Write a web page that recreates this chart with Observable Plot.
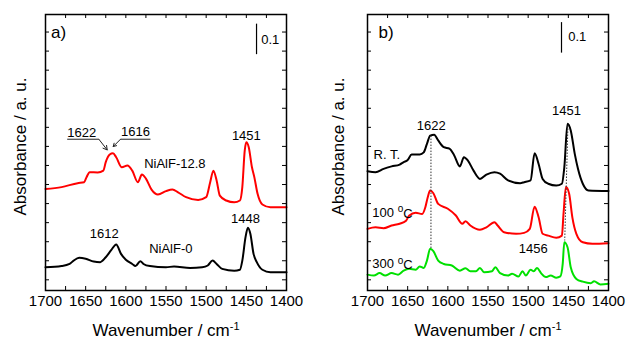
<!DOCTYPE html>
<html><head><meta charset="utf-8">
<script src="https://cdn.jsdelivr.net/npm/d3@7"></script>
<script src="https://cdn.jsdelivr.net/npm/@observablehq/plot@0.6"></script>
<style>
body{margin:0;background:#fff;}
#chart{display:flex;width:626px;height:345px;}
</style></head><body><div id="chart"></div>
<script>
// ---- tick labels / tick values ----
const xTickLabels = [1700,1650,1600,1550,1500,1450,1400];
const xMinorTicks = [1675,1650,1625,1600,1575,1550,1525,1500,1475,1450,1425];
const yTicks = [0,0.0625,0.125,0.1875,0.25,0.3125,0.375,0.4375,0.5,0.5625,0.625,0.6875,0.75,0.8125];

// ---- panel a) series ----
const redA_wn  = [1700,1680,1660,1652,1649,1645,1635,1628,1625,1620,1616,1612,1605,1598,1592,1585,1580,1575,1568,1560,1550,1542,1535,1525,1510,1500,1495,1491,1487,1483,1475,1465,1458,1455,1452,1450,1447,1443,1440,1436,1430,1420,1400];
const redA_abs = [0.298,0.304,0.317,0.320,0.336,0.353,0.352,0.358,0.386,0.411,0.415,0.402,0.369,0.375,0.358,0.320,0.345,0.332,0.296,0.280,0.291,0.296,0.287,0.271,0.262,0.271,0.320,0.358,0.326,0.276,0.260,0.254,0.260,0.304,0.424,0.451,0.435,0.369,0.336,0.282,0.247,0.238,0.238];
const blackA_wn  = [1700,1680,1670,1665,1658,1650,1640,1632,1625,1618,1612,1606,1600,1592,1588,1582,1578,1570,1550,1540,1520,1505,1498,1492,1487,1480,1465,1458,1455,1451,1448,1445,1441,1437,1430,1420,1400];
const blackA_abs = [0.041,0.045,0.052,0.063,0.072,0.069,0.060,0.058,0.074,0.098,0.116,0.085,0.066,0.052,0.045,0.061,0.052,0.045,0.041,0.044,0.039,0.041,0.047,0.063,0.052,0.036,0.030,0.033,0.063,0.140,0.171,0.151,0.085,0.058,0.033,0.025,0.025];

// ---- panel b) series ----
const rtB_wn  = [1700,1690,1680,1670,1660,1655,1650,1645,1635,1630,1626,1622,1617,1612,1605,1598,1592,1585,1580,1575,1568,1560,1552,1542,1535,1525,1510,1505,1497,1492,1487,1482,1475,1465,1458,1455,1451,1447,1442,1438,1432,1425,1400];
const rtB_abs = [0.356,0.353,0.364,0.372,0.378,0.386,0.393,0.411,0.411,0.418,0.446,0.473,0.476,0.457,0.435,0.430,0.408,0.372,0.402,0.391,0.358,0.331,0.345,0.353,0.348,0.326,0.317,0.320,0.326,0.415,0.380,0.331,0.315,0.309,0.315,0.369,0.512,0.490,0.413,0.364,0.315,0.293,0.291];
const t100B_wn  = [1700,1690,1680,1670,1660,1652,1648,1640,1632,1628,1625,1622,1618,1612,1600,1590,1582,1578,1572,1560,1552,1542,1538,1530,1515,1505,1498,1492,1487,1482,1475,1465,1458,1456,1453,1449,1445,1440,1432,1420,1400];
const t100B_abs = [0.167,0.172,0.169,0.178,0.184,0.194,0.211,0.220,0.216,0.238,0.271,0.293,0.284,0.249,0.233,0.211,0.184,0.192,0.178,0.164,0.172,0.189,0.178,0.156,0.151,0.154,0.167,0.240,0.205,0.151,0.145,0.138,0.145,0.216,0.304,0.282,0.205,0.151,0.123,0.118,0.120];
const t300B_wn  = [1700,1692,1685,1678,1670,1662,1655,1648,1640,1635,1630,1626,1622,1618,1612,1605,1595,1585,1578,1572,1565,1560,1555,1545,1541,1535,1525,1520,1512,1507,1503,1497,1493,1489,1484,1478,1472,1465,1460,1457,1455,1451,1447,1440,1432,1422,1418,1410,1400];
const t300B_abs = [0.017,0.014,0.022,0.014,0.022,0.017,0.030,0.036,0.033,0.044,0.039,0.063,0.102,0.094,0.063,0.052,0.047,0.030,0.038,0.028,0.028,0.039,0.025,0.028,0.041,0.022,0.014,0.020,0.011,0.028,0.014,0.033,0.028,0.039,0.022,0.009,0.014,0.007,0.011,0.052,0.123,0.107,0.041,0.003,-0.006,-0.011,-0.005,-0.015,-0.013];

// ---- annotations (text, wavenumber, absorbance) ----
const annA_text = ["1622","1616","NiAlF-12.8","1451","1612","NiAlF-0","1448"];
const annA_wn   = [1655,1588,1539,1450,1627,1544,1451];
const annA_abs  = [0.481,0.485,0.380,0.473,0.152,0.103,0.201];
const underA_x1 = [1673,1606.6], underA_x2 = [1633.6,1569.3], underA_y = [0.461,0.461];
const arrowA_x1 = [1633.6,1606.6], arrowA_y1 = [0.461,0.461], arrowA_x2 = [1623.2,1615.7], arrowA_y2 = [0.426,0.437];

const annB_text = ["1622","1451","1456"];
const annB_wn   = [1620.6,1452.3,1493.7];
const annB_abs  = [0.506,0.553,0.102];
const tempB_text = ["R. T.","100 oC","300 oC"];
const tempB_wn   = [1692.5,1694,1694];
const tempB_abs  = [0.411,0.220,0.052];
const dotB_x1 = [1621,1450.5], dotB_y1 = [0.473,0.506], dotB_x2 = [1621,1454.5], dotB_y2 = [0.103,0.129];

const panelLetter = ["a)","b)"];
const panelLetter_wn = [1693,1686.3], panelLetter_abs = [0.811,0.811];
const scaleBar_wn = [1437.3,1458.5], scaleBar_lo = [0.74,0.745], scaleBar_hi = [0.84,0.845];
const scaleText_wn = [1431.5,1450.2], scaleText_abs = [0.787,0.798];

const zip = (xs, ys) => xs.map((x, i) => ({wn: x, abs: ys[i]}));
const FONT = "'Liberation Sans', Arial, sans-serif";

function panel({idx, marginLeft, marginRight, series, extra}) {
  return Plot.plot({
    width: 313, height: 345,
    marginLeft, marginRight, marginTop: 14, marginBottom: 55,
    style: {fontFamily: FONT, background: "white", color: "black"},
    x: {domain: [1700, 1400]},
    y: {domain: [-0.035, 0.87], axis: null},
    marks: [
      Plot.tickX(xMinorTicks, {x: d => d, insetTop: 272, stroke: "black"}),
      Plot.tickX(xMinorTicks, {x: d => d, insetBottom: 272, stroke: "black"}),
      Plot.tickY(yTicks, {y: d => d, insetRight: 237, stroke: "black"}),
      Plot.tickY(yTicks, {y: d => d, insetLeft: 237, stroke: "black"}),
      Plot.axisX({ticks: xTickLabels, tickSize: 0, tickPadding: 5, fontSize: 15, label: null, tickFormat: d => String(d)}),
      ...series.map(s => Plot.line(zip(s.wn, s.abs), {x: "wn", y: "abs", stroke: s.color, strokeWidth: 2, curve: "monotone-x"})),
      Plot.link([scaleBar_wn[idx]], {x1: d => d, x2: d => d, y1: () => scaleBar_lo[idx], y2: () => scaleBar_hi[idx], stroke: "black", strokeWidth: 1.2}),
      Plot.text([scaleText_wn[idx]], {x: d => d, y: () => scaleText_abs[idx], text: () => "0.1", textAnchor: "start", fontSize: 13}),
      Plot.text([panelLetter[idx]], {x: () => panelLetter_wn[idx], y: () => panelLetter_abs[idx], textAnchor: "start", fontSize: 17}),
      ...extra,
      Plot.frame({stroke: "black", strokeWidth: 1.5}),
      Plot.text(["Wavenumber / cm-1"], {frameAnchor: "bottom", textAnchor: "middle", lineAnchor: "middle", dy: 40, fontSize: 17}),
      Plot.text(["Absorbance / a. u."], {frameAnchor: "left", textAnchor: "middle", lineAnchor: "middle", dx: idx === 0 ? -25 : -29, dy: -6, rotate: -90, fontSize: 17})
    ]
  });
}

const svgA = panel({
  idx: 0, marginLeft: 45, marginRight: 27,
  series: [
    {wn: redA_wn, abs: redA_abs, color: "#ff0000"},
    {wn: blackA_wn, abs: blackA_abs, color: "#000000"}
  ],
  extra: [
    Plot.text(annA_text, {x: (d, i) => annA_wn[i], y: (d, i) => annA_abs[i], text: d => d, fontSize: 13}),
    Plot.link(underA_x1, {x1: d => d, x2: (d, i) => underA_x2[i], y1: (d, i) => underA_y[i], y2: (d, i) => underA_y[i], stroke: "#222", strokeWidth: 1}),
    Plot.arrow(arrowA_x1, {x1: d => d, y1: (d, i) => arrowA_y1[i], x2: (d, i) => arrowA_x2[i], y2: (d, i) => arrowA_y2[i], stroke: "#222", strokeWidth: 1, headLength: 7})
  ]
});

const svgB = panel({
  idx: 1, marginLeft: 54, marginRight: 18,
  series: [
    {wn: rtB_wn, abs: rtB_abs, color: "#000000"},
    {wn: t100B_wn, abs: t100B_abs, color: "#ff0000"},
    {wn: t300B_wn, abs: t300B_abs, color: "#00e000"}
  ],
  extra: [
    Plot.link(dotB_x1, {x1: d => d, x2: (d, i) => dotB_x2[i], y1: (d, i) => dotB_y1[i], y2: (d, i) => dotB_y2[i], stroke: "#333", strokeWidth: 1, strokeDasharray: "1.5,1.5"}),
    Plot.text(annB_text, {x: (d, i) => annB_wn[i], y: (d, i) => annB_abs[i], text: d => d, fontSize: 13}),
    Plot.text(tempB_text, {x: (d, i) => tempB_wn[i], y: (d, i) => tempB_abs[i], text: d => d, textAnchor: "start", fontSize: 13})
  ]
});

// superscripts
function superscript(svg) {
  d3.select(svg).selectAll("text").each(function() {
    const el = d3.select(this);
    if (el.selectAll("tspan").size() > 0) return;
    const t = el.text();
    if (t === "Wavenumber / cm-1") {
      el.text("Wavenumber / cm");
      el.append("tspan").attr("dy", "-0.55em").attr("font-size", "11").text("-1");
    } else if (/^\d+ oC$/.test(t)) {
      const n = t.split(" ")[0];
      el.text(n + " ");
      el.append("tspan").attr("dy", "-0.45em").attr("font-size", "10").text("o");
      el.append("tspan").attr("dy", "0.45em").text("C");
    }
  });
}
superscript(svgA); superscript(svgB);
document.getElementById("chart").append(svgA, svgB);
</script></body></html>
